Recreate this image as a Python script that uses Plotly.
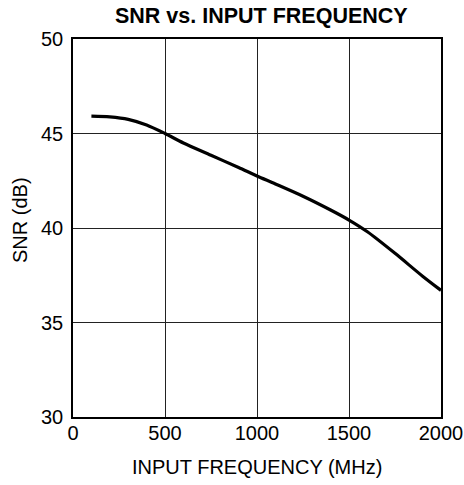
import plotly.graph_objects as go

freq_mhz = [100, 200, 300, 400, 500, 600, 750, 900, 1000, 1100, 1250, 1400, 1500, 1600, 1750, 1900, 2000]
snr_db = [45.92, 45.88, 45.75, 45.45, 45.0, 44.5, 43.85, 43.2, 42.75, 42.33, 41.68, 40.95, 40.42, 39.8, 38.66, 37.45, 36.7]

x_ticks = [0, 500, 1000, 1500, 2000]
y_ticks = [30, 35, 40, 45, 50]

fig = go.Figure()
fig.add_trace(go.Scatter(x=freq_mhz, y=snr_db, mode="lines",
                         line=dict(color="black", width=3.2, shape="spline", smoothing=0.8),
                         showlegend=False))

font = "Liberation Sans, Arial, sans-serif"
fig.update_layout(
    width=464, height=485,
    margin=dict(l=73, r=23, t=39, b=68, autoexpand=False),
    paper_bgcolor="white", plot_bgcolor="white",
    font=dict(family=font, color="black"),
    annotations=[
        dict(text="<b>SNR vs. INPUT FREQUENCY</b>", xref="paper", yref="paper", x=0.513, y=1.0,
             xanchor="center", yanchor="middle", yshift=23, showarrow=False,
             font=dict(family=font, size=21.5, color="black")),
        dict(text="INPUT FREQUENCY (MHz)", xref="paper", yref="paper", x=0.5, y=0,
             xanchor="center", yanchor="middle", yshift=-50, showarrow=False,
             font=dict(family=font, size=20, color="black")),
        dict(text="SNR (dB)", xref="paper", yref="paper", x=0, y=0.5,
             xanchor="center", yanchor="middle", xshift=-53, yshift=8, textangle=-90, showarrow=False,
             font=dict(family=font, size=20, color="black")),
    ],
)
fig.update_xaxes(range=[0, 2000], tickvals=x_ticks, showgrid=True, gridcolor="#222", gridwidth=1,
                 showline=True, linecolor="black", linewidth=1.5, mirror=True, zeroline=False,
                 automargin=False, ticks="", ticklen=0, ticklabelstandoff=-3,
                 tickfont=dict(size=20, family=font, color="black"))
fig.update_yaxes(range=[30, 50], tickvals=y_ticks, showgrid=True, gridcolor="#222", gridwidth=1,
                 showline=True, linecolor="black", linewidth=1.5, mirror=True, zeroline=False,
                 automargin=False, ticks="", ticklen=0, ticklabelstandoff=4,
                 tickfont=dict(size=20, family=font, color="black"))

fig.write_html("out.html", config={"displayModeBar": False},
               post_script="document.body.style.margin='0';")
